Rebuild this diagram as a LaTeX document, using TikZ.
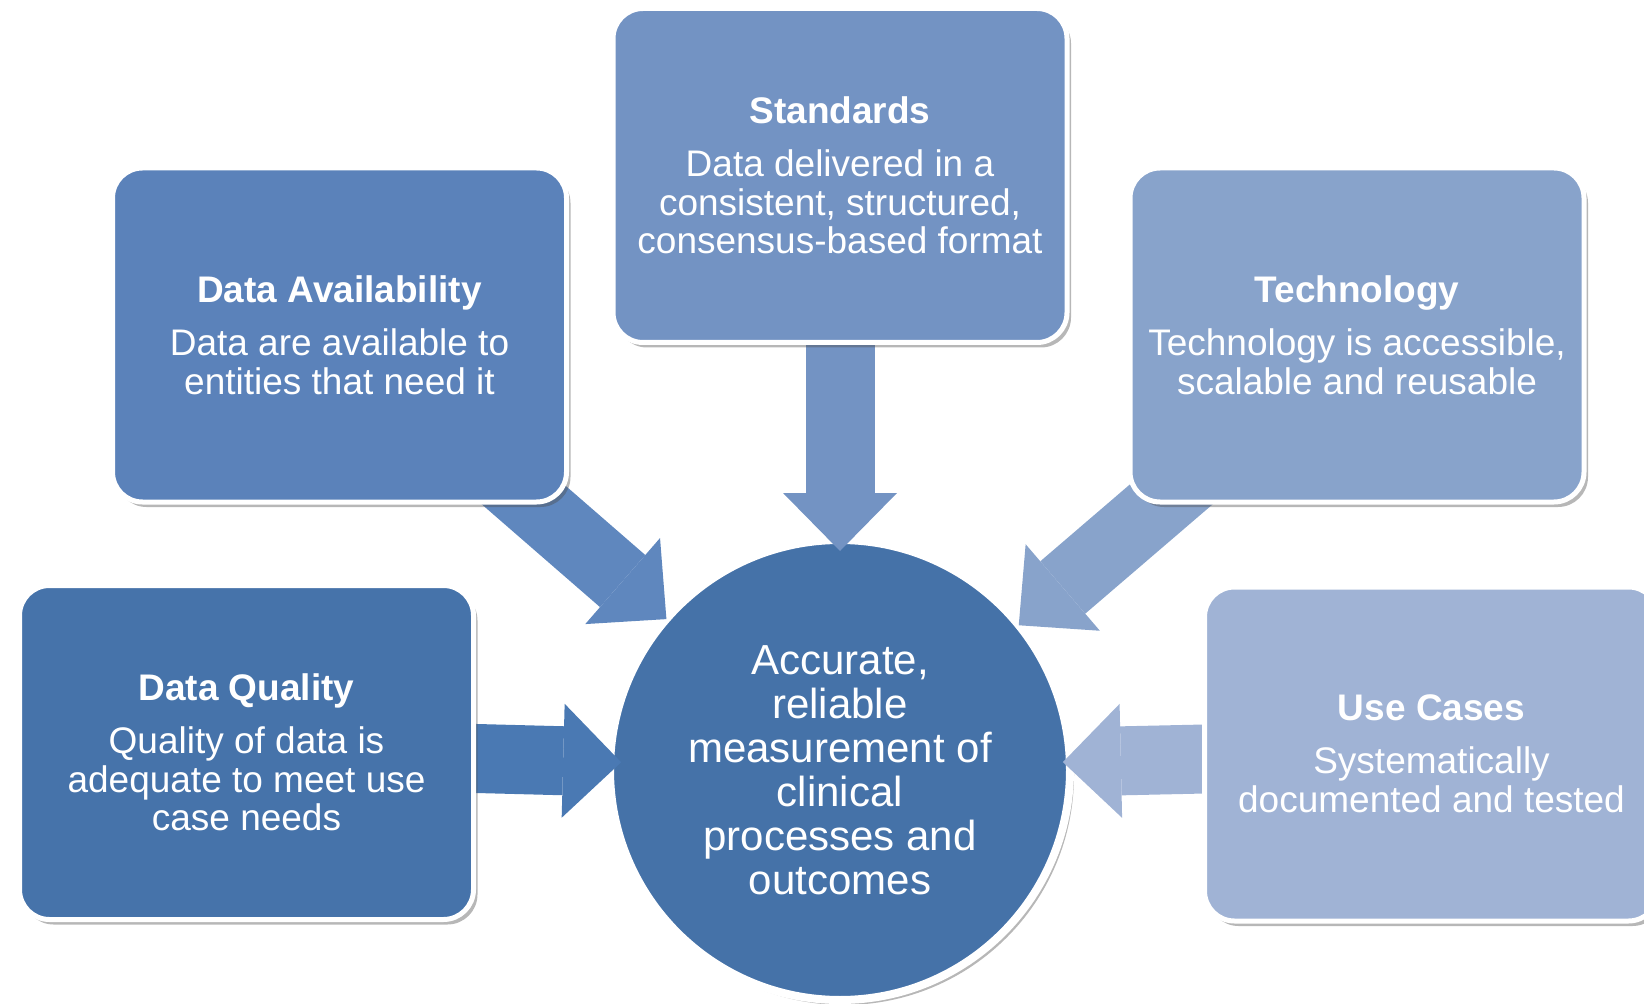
\documentclass[tikz,border=0pt]{standalone}
\usepackage{fontspec}
\setmainfont{Liberation Sans}
\usetikzlibrary{arrows.meta,shadows,backgrounds}

\definecolor{qualityblue}{HTML}{4673AA}
\definecolor{availblue}{HTML}{5B82BA}
\definecolor{standblue}{HTML}{7393C3}
\definecolor{techblue}{HTML}{88A3CB}
\definecolor{caseblue}{HTML}{A0B3D5}
\definecolor{hubblue}{HTML}{4572A8}
\definecolor{qualityarrow}{HTML}{4A79B3}
\definecolor{availarrow}{HTML}{5F87BE}

\pgfdeclarelayer{arrows}
\pgfsetlayers{background,arrows,main}

\tikzset{
	box/.style = {rectangle, rounded corners=15pt, draw=white, line width=2.5pt,
		minimum width=227pt, minimum height=167pt, outer sep=0pt, text=white, align=center,
		font=\fontsize{18.5}{19.4}\selectfont,
		drop shadow={shadow xshift=2pt, shadow yshift=-2.5pt, opacity=0.4, fill=black!70}},
	hub/.style = {circle, draw=white, line width=4pt, minimum size=230pt, outer sep=0pt,
		text=white, align=center, font=\fontsize{21}{22}\selectfont, fill=hubblue,
		drop shadow={shadow xshift=2pt, shadow yshift=-2.5pt, opacity=0.4, fill=black!70}},
	fat/.style = {line width=34.5pt, -{Triangle[width=57pt, length=29pt, line width=0pt]}}
}

\begin{document}
\begin{tikzpicture}[x=0.5pt, y=0.5pt]
		\clip (0,0) rectangle (1644,1003);
		\begin{pgfonlayer}{background}
			\node[hub] (hub) at (840,233) {Accurate,\\reliable\\measurement of\\clinical\\processes and\\outcomes};
		\end{pgfonlayer}
		\node[box, fill=standblue] (std) at (840,827.5) {{\bfseries Standards}\\[7pt]Data delivered in a\\consistent, structured,\\consensus-based format};
		\node[box, fill=availblue] (avail) at (339.5,668) {{\bfseries Data Availability}\\[7pt]Data are available to\\entities that need it};
		\node[box, fill=techblue] (tech) at (1357,668) {{\bfseries Technology}\\[7pt]Technology is accessible,\\scalable and reusable};
		\node[box, fill=qualityblue] (quality) at (246.5,250.5) {{\bfseries Data Quality}\\[7pt]Quality of data is\\adequate to meet use\\case needs};
		\node[box, fill=caseblue] (cases) at (1431.5,249) {{\bfseries Use Cases}\\[7pt]Systematically\\documented and tested};
		\begin{pgfonlayer}{arrows}
			\draw[fat, standblue, shorten >=-5.5pt] (std.center) -- (hub.90);
			\draw[fat, availarrow] (avail.center) -- (hub.139);
			\draw[fat, techblue] (tech.center) -- (hub.39);
			\draw[fat, qualityarrow, shorten >=-5.5pt] (quality.center) -- (hub.178);
			\draw[fat, caseblue, shorten >=-3.5pt] (cases.center) -- (hub.2);
		\end{pgfonlayer}
	\end{tikzpicture}
\end{document}
